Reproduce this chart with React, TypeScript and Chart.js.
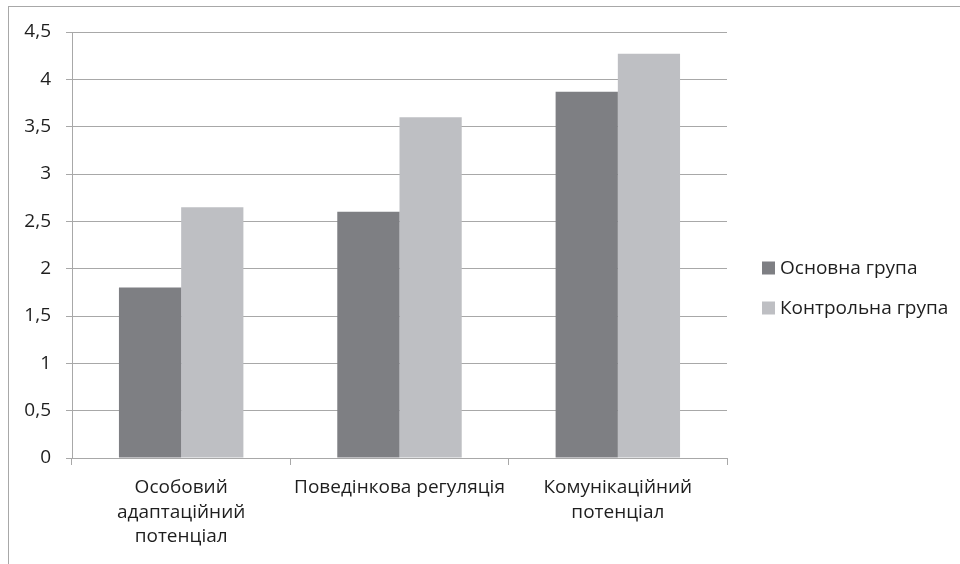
import { useEffect, useRef } from "react";
import { Chart, registerables } from "chart.js";

Chart.register(...registerables);

const categories: string[][] = [
  ["Особовий", "адаптаційний", "потенціал"],
  ["Поведінкова регуляція"],
  ["Комунікаційний", "потенціал"],
];
const seriesNames = ["Основна група", "Контрольна група"];
const mainGroup = [1.8, 2.6, 3.87];
const controlGroup = [2.65, 3.6, 4.27];
const yMin = 0;
const yMax = 4.5;
const yStep = 0.5;

const seriesColors = ["#7e7f83", "#bebfc3"];
const gridColor = "#a8a8a8";
const textColor = "#1e1e1e";
const fontFamily = "'Open Sans', sans-serif";
const fontSize = 19;

const legendPlugin = {
  id: "sideLegend",
  afterDraw(chart: any) {
    const { ctx, chartArea } = chart;
    const x = chartArea.right + 35;
    const midY = (chartArea.top + chartArea.bottom) / 2 + 43;
    const spacing = 40;
    const n = chart.data.datasets.length;
    ctx.save();
    ctx.font = `${fontSize}px ${fontFamily}`;
    ctx.textBaseline = "middle";
    ctx.textAlign = "left";
    chart.data.datasets.forEach((ds: any, i: number) => {
      const y = midY + (i - (n - 1) / 2) * spacing;
      ctx.fillStyle = ds.backgroundColor;
      ctx.fillRect(x, y - 6.5, 13, 13);
      ctx.fillStyle = textColor;
      ctx.fillText(ds.label, x + 18, y + 1);
    });
    ctx.restore();
  },
};

export default function App() {
  const canvasRef = useRef<HTMLCanvasElement | null>(null);

  useEffect(() => {
    if (!canvasRef.current) return;
    const chart = new Chart(canvasRef.current, {
      type: "bar",
      data: {
        labels: categories,
        datasets: [
          {
            label: seriesNames[0],
            data: mainGroup,
            backgroundColor: seriesColors[0],
            borderWidth: 0,
          },
          {
            label: seriesNames[1],
            data: controlGroup,
            backgroundColor: seriesColors[1],
            borderWidth: 0,
          },
        ],
      },
      options: {
        animation: false,
        responsive: false,
        devicePixelRatio: 1,
        layout: { padding: { left: 0, top: 32, right: 233, bottom: 0 } },
        datasets: { bar: { categoryPercentage: 0.57, barPercentage: 1 } },
        plugins: {
          legend: { display: false },
          tooltip: { enabled: false },
        },
        scales: {
          x: {
            offset: true,
            grid: {
              offset: true,
              drawOnChartArea: false,
              drawTicks: true,
              tickLength: 7,
              color: gridColor,
              lineWidth: 1,
            },
            border: { display: true, color: gridColor, width: 1 },
            ticks: {
              color: textColor,
              padding: 11,
              maxRotation: 0,
              autoSkip: false,
              font: { family: fontFamily, size: fontSize, lineHeight: 1.27 },
            },
            afterFit: (scale: any) => {
              scale.height = 106;
            },
          },
          y: {
            min: yMin,
            max: yMax,
            grid: {
              drawTicks: true,
              tickLength: 6,
              color: gridColor,
              lineWidth: 1,
            },
            border: { display: true, color: gridColor, width: 1 },
            ticks: {
              stepSize: yStep,
              color: textColor,
              padding: 15,
              font: { family: fontFamily, size: fontSize },
              callback: (v: any) => String(v).replace(".", ","),
            },
            afterFit: (scale: any) => {
              scale.width = 72;
            },
          },
        },
      },
      plugins: [legendPlugin],
    });
    return () => chart.destroy();
  }, []);

  return (
    <div
      style={{
        position: "fixed",
        left: 0,
        top: 0,
        width: 960,
        height: 564,
        overflow: "hidden",
        background: "#ffffff",
      }}
    >
      <div
        style={{
          position: "absolute",
          left: 8,
          top: 6,
          width: 2000,
          height: 2000,
          borderTop: `1px solid ${gridColor}`,
          borderLeft: `1px solid ${gridColor}`,
        }}
      />
      <canvas
        ref={canvasRef}
        width={960}
        height={564}
        style={{ position: "absolute", left: 0, top: 0, width: 960, height: 564 }}
      />
    </div>
  );
}
